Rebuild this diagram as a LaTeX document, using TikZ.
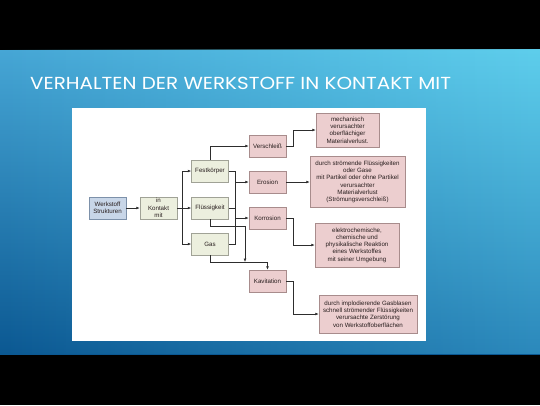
\documentclass[tikz,border=0pt]{standalone}
\usepackage{fontspec}
\setmainfont{Liberation Sans}
\newfontfamily\titlefont{Poppins}
\usetikzlibrary{arrows.meta,fadings}
\definecolor{bgUL}{RGB}{70,166,213}
\definecolor{bgUR}{RGB}{94,206,236}
\definecolor{bgLL}{RGB}{11,88,146}
\definecolor{bgLR}{RGB}{44,137,188}
\definecolor{pinkfill}{RGB}{236,206,207}
\definecolor{pinkdraw}{RGB}{168,140,140}
\definecolor{greenfill}{RGB}{236,239,222}
\definecolor{greendraw}{RGB}{160,162,150}
\definecolor{bluefill}{RGB}{200,214,232}
\definecolor{bluedraw}{RGB}{125,145,170}
\definecolor{linecol}{RGB}{45,45,45}
\definecolor{txtcol}{RGB}{40,30,30}
\tikzfading[name=myfaderight, left color=transparent!100, right color=transparent!0]
\begin{document}
\begin{tikzpicture}[x=1bp,y=-1bp,
  base/.style={draw, line width=0.6bp, inner sep=0pt, align=center,
    font=\fontsize{6.2}{7.3}\selectfont, text=txtcol},
  smallbox/.style={base, minimum width=37bp, minimum height=22bp},
  pinkbox/.style={fill=pinkfill, draw=pinkdraw},
  greenbox/.style={fill=greenfill, draw=greendraw},
  bluebox/.style={fill=bluefill, draw=bluedraw},
  conn/.style={draw=linecol, line width=0.6bp},
  arr/.style={conn, -{Latex[length=3.4bp,width=2.8bp]}}]
\useasboundingbox (0,0) rectangle (540,405);
\fill[black] (0,0) rectangle (540,405);
\shade[top color=bgUL, bottom color=bgLL] (0,50) rectangle (540,354);
\shade[top color=bgUR, bottom color=bgLR, path fading=myfaderight] (0,50) rectangle (540,354);
\fill[white] (72,108) rectangle (426,341);
\node[anchor=base west, inner sep=0pt, text=white, font=\titlefont\fontsize{17.5}{20}\selectfont] (title) at (30,89.5) {\scalebox{1.14}[1]{VERHALTEN DER WERKSTOFF IN KONTAKT MIT}};

% boxes
\node[smallbox, bluebox] (ws) at (107.5,208) {Werkstoff\\Strukturen};
\node[smallbox, greenbox] (ikm) at (158.5,208) {in\\Kontakt\\mit};
\node[smallbox, greenbox] (fest) at (210,171) {Festkörper};
\node[smallbox, greenbox] (flu) at (210,208) {Flüssigkeit};
\node[smallbox, greenbox] (gas) at (210,244) {Gas};
\node[smallbox, pinkbox] (ver) at (267.5,146) {Verschleiß};
\node[smallbox, pinkbox] (ero) at (267.5,182) {Erosion};
\node[smallbox, pinkbox] (kor) at (267.5,218) {Korrosion};
\node[smallbox, pinkbox] (kav) at (267.5,281) {Kavitation};
\node[base, pinkbox, minimum width=63bp, minimum height=34bp] (m1) at (347.5,130) {mechanisch\\verursachter\\oberflächiger\\Materialverlust.};
\node[base, pinkbox, minimum width=95bp, minimum height=51bp] (m2) at (357.5,182) {durch strömende Flüssigkeiten\\oder Gase\\mit Partikel oder ohne Partikel\\verursachter\\Materialverlust\\(Strömungsverschleiß)};
\node[base, pinkbox, minimum width=84bp, minimum height=44bp] (m3) at (357,245) {elektrochemische,\\chemische und\\physikalische Reaktion\\eines Werkstoffes\\mit seiner Umgebung};
\node[base, pinkbox, minimum width=98bp, minimum height=38bp] (m4) at (368,314) {durch implodierende Gasblasen\\schnell strömender Flüssigkeiten\\verursachte Zerstörung\\von Werkstoffoberflächen};

% helper coordinates
\coordinate (t1) at (182,171);
\coordinate (t2) at (182,244);
\coordinate (b1) at (235,171);
\coordinate (b2) at (235,244);
\coordinate (bE) at (235,182);
\coordinate (bK) at (235,218);
\coordinate (bF) at (235,208);
\coordinate (f1) at (210,226);
\coordinate (f2) at (245,226);
\coordinate (f3) at (245,262);
\coordinate (g1) at (210,262);
\coordinate (g2) at (267.5,262);
\coordinate (r1) at (293,146);
\coordinate (r2) at (293,130);
\coordinate (r3) at (293,218);
\coordinate (r4) at (293,245);
\coordinate (r5) at (293,281);
\coordinate (r6) at (293,314);

% connectors
\draw[arr] (ws) -- (ikm);
\draw[arr] (ikm) -- (flu);
\draw[conn] (t1) -- (t2);
\draw[arr] (t1) -- (fest);
\draw[arr] (t2) -- (gas);
\draw[arr] (fest.north) |- (ver);
\draw[conn] (fest.east) -- (b1) -- (b2) -- (gas.east);
\draw[conn] (flu.east) -- (bF);
\draw[arr] (bE) -- (ero);
\draw[arr] (bK) -- (kor);
\draw[arr] (flu.south) -- (f1) -- (f2) -- (f3);
\draw[conn] (gas.south) -- (g1) -- (g2);
\draw[arr] (g2) -- (kav.north);
\draw[arr] (ver.east) -- (r1) -- (r2) -- (m1.west);
\draw[arr] (ero) -- (m2);
\draw[arr] (kor.east) -- (r3) -- (r4) -- (m3.west);
\draw[arr] (kav.east) -- (r5) -- (r6) -- (m4.west);
\end{tikzpicture}
\end{document}
